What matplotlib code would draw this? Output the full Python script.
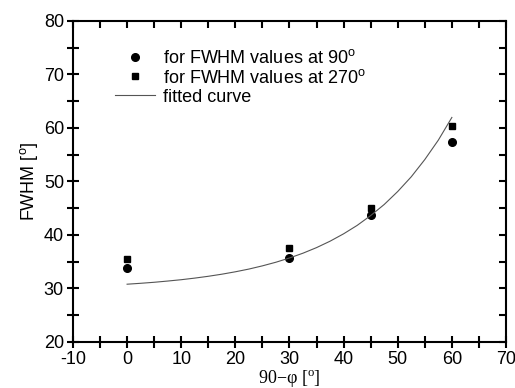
import matplotlib
matplotlib.use('Agg')
import matplotlib.pyplot as plt
from matplotlib.ticker import MultipleLocator

plt.rcParams['font.family'] = ['Liberation Sans', 'DejaVu Sans']
plt.rcParams['mathtext.default'] = 'regular'
plt.rcParams['axes.unicode_minus'] = False

# measured points
angle = [0, 30, 45, 60]
fwhm_90 = [33.8, 35.7, 43.8, 57.3]
fwhm_270 = [35.6, 37.6, 45.1, 60.4]

# fitted curve
fit_x = [0, 2.5, 5, 7.5, 10, 12.5, 15, 17.5, 20, 22.5, 25, 27.5, 30, 32.5, 35, 37.5,
         40, 42.5, 45, 47.5, 50, 52.5, 55, 57.5, 60]
fit_y = [30.8, 30.97, 31.16, 31.39, 31.64, 31.94, 32.28, 32.67, 33.12, 33.63, 34.23, 34.91,
         35.7, 36.6, 37.64, 38.84, 40.22, 41.79, 43.63, 45.7, 48.13, 50.88, 54.1, 57.73, 61.97]

fig = plt.figure(figsize=(5.15, 3.88), dpi=100)
ax = fig.add_axes([0.1417, 0.1186, 0.8408, 0.8273])

ax.plot(angle, fwhm_90, 'o', color='black', markersize=5.5, label='for FWHM values at 90$^{o}$')
ax.plot(angle, fwhm_270, 's', color='black', markersize=5, label='for FWHM values at 270$^{o}$')
ax.plot(fit_x, fit_y, '-', color='#555555', lw=0.8, label='fitted curve')

ax.set_xlim(-10, 70)
ax.set_ylim(20, 80)
ax.xaxis.set_major_locator(MultipleLocator(10))
ax.xaxis.set_minor_locator(MultipleLocator(5))
ax.yaxis.set_major_locator(MultipleLocator(10))
ax.yaxis.set_minor_locator(MultipleLocator(5))

for s in ax.spines.values():
    s.set_linewidth(1.5)

ax.tick_params(which='both', direction='inout', width=1.5, labelsize=13, top=True, right=True)
ax.tick_params(which='major', length=9)
ax.tick_params(which='minor', length=8)
ax.tick_params(axis='x', which='both', top=True, labeltop=False, pad=2)
ax.tick_params(axis='y', which='both', right=True, labelright=False, pad=2)
# top / right ticks point inward only
for t in ax.xaxis.get_major_ticks() + ax.xaxis.get_minor_ticks():
    t.tick2line.set_marker(3)
    t.tick2line.set_markersize(5)
for t in ax.yaxis.get_major_ticks() + ax.yaxis.get_minor_ticks():
    t.tick2line.set_marker(0)
    t.tick2line.set_markersize(5)

ax.set_xlabel('90\u2212\u03c6 [$^{o}$]', family=['Liberation Serif', 'DejaVu Serif'], fontsize=13, labelpad=0)
ax.set_ylabel('FWHM [$^{o}$]', fontsize=13, labelpad=3)

ax.legend(loc='upper left', bbox_to_anchor=(0.097, 0.913), frameon=False, fontsize=13,
          handlelength=2.2, handletextpad=0.45, labelspacing=0.1, borderpad=0, borderaxespad=0)

fig.savefig('out.png', dpi=100)
